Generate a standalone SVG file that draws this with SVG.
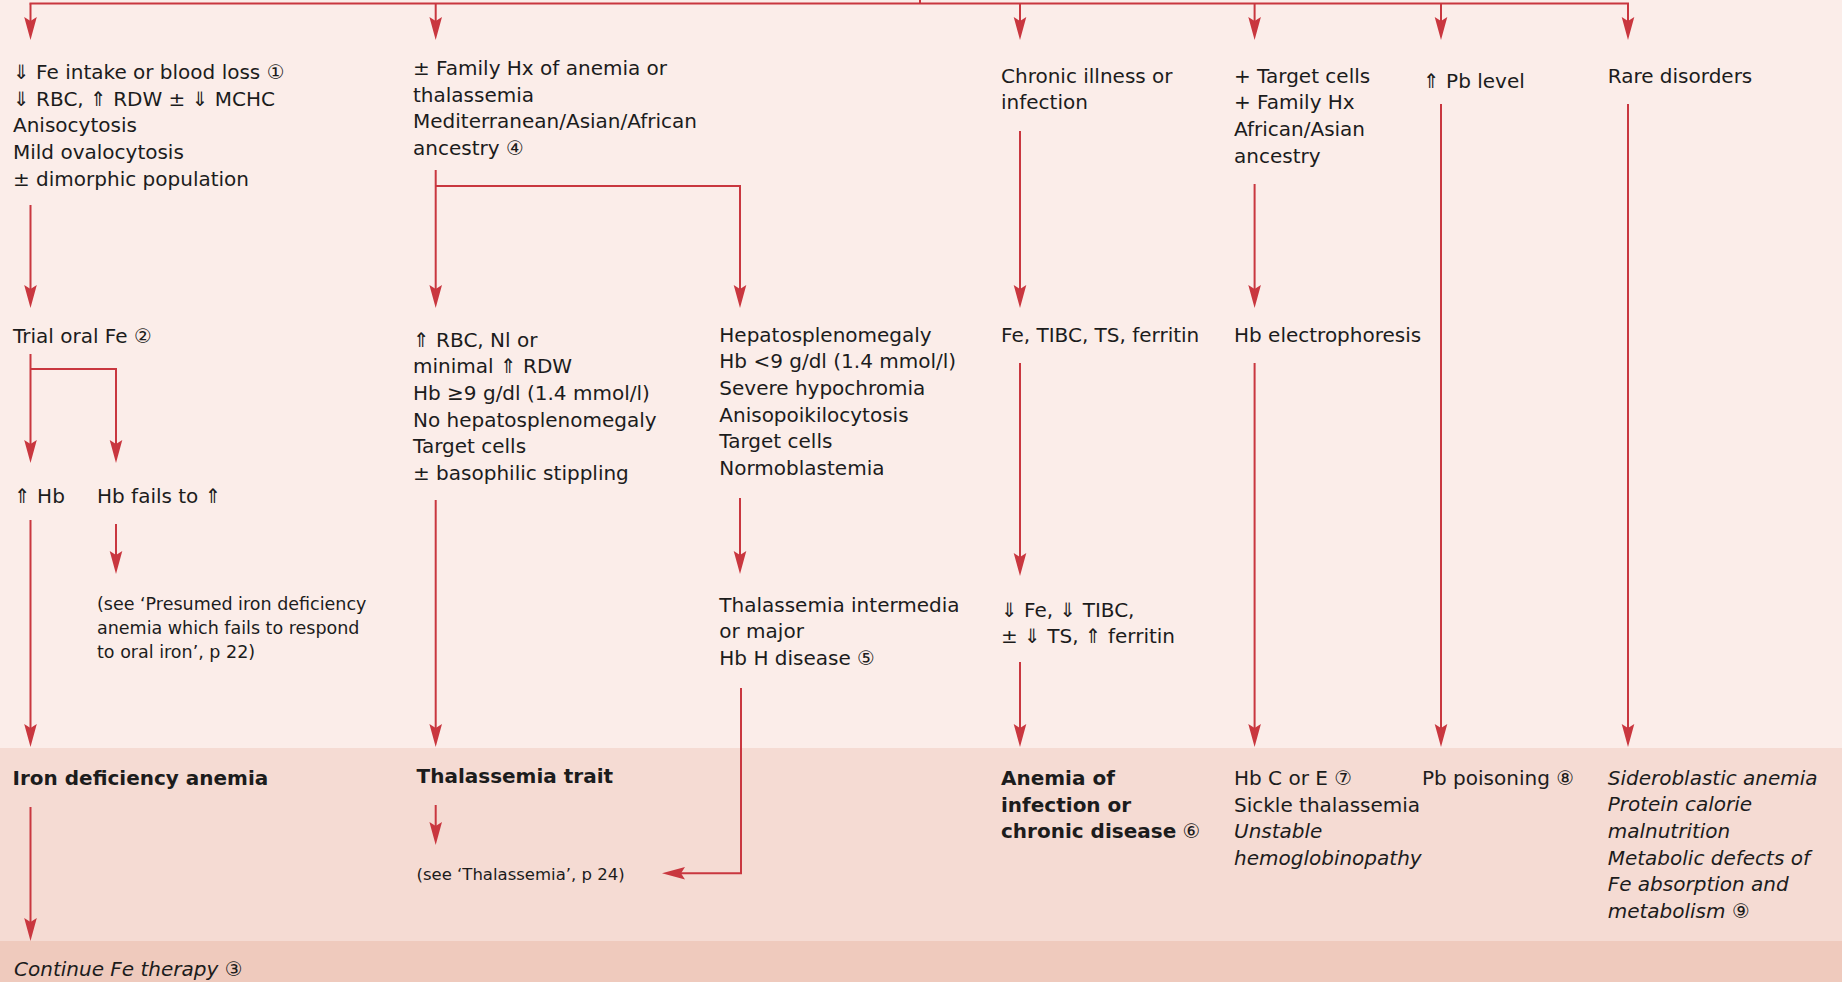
<svg xmlns="http://www.w3.org/2000/svg" width="1842" height="982" viewBox="0 0 1842 982">
<defs>
<style>
.t{font-family:"DejaVu Sans","Liberation Sans",sans-serif;font-size:20px;fill:#1c1c1c}
.b{font-weight:bold}
.i{font-style:italic}
.s{font-size:17.5px}
.xs{font-size:16.5px}
.c{fill:none;stroke:#c9373f;stroke-width:2;stroke-linejoin:miter}
.a{marker-end:url(#ah)}
</style>
<marker id="ah" markerUnits="userSpaceOnUse" markerWidth="30" markerHeight="20" viewBox="-5 -8 30 16" refX="0" refY="0" orient="auto">
<path d="M-4,-6.3 L19,0 L-4,6.3 L0,0 Z" fill="#c9373f"/>
</marker>
</defs>
<g id="background">
<rect x="0" y="0" width="1842" height="748" fill="#fbede9"/>
<rect x="0" y="748" width="1842" height="193" fill="#f5dbd3"/>
<rect x="0" y="941" width="1842" height="41" fill="#efcabd"/>
</g>
<g id="connectors">
<path class="c" d="M29.5,3.5 H1629"/>
<path class="c" d="M920,0 V3.5"/>
<path class="c a" d="M30.5,3.5 V21"/>
<path class="c a" d="M435.7,3.5 V21"/>
<path class="c a" d="M1020,3.5 V21"/>
<path class="c a" d="M1254.6,3.5 V21"/>
<path class="c a" d="M1441,3.5 V21"/>
<path class="c a" d="M1628,3.5 V21"/>
<path class="c a" d="M30.5,205 V289"/>
<path class="c a" d="M30.5,354 V444"/>
<path class="c a" d="M30.5,369 H116 V444"/>
<path class="c a" d="M116,524 V555"/>
<path class="c a" d="M30.5,520 V728"/>
<path class="c a" d="M30.5,807 V922"/>
<path class="c a" d="M435.7,170 V289"/>
<path class="c a" d="M435.7,186 H740 V289"/>
<path class="c a" d="M435.7,500 V728"/>
<path class="c a" d="M740,498 V555"/>
<path class="c a" d="M741,688 V873.3 H681"/>
<path class="c a" d="M435.7,805 V826"/>
<path class="c a" d="M1020,131 V289"/>
<path class="c a" d="M1020,363 V557"/>
<path class="c a" d="M1020,662 V728"/>
<path class="c a" d="M1254.6,184 V289"/>
<path class="c a" d="M1254.6,363 V728"/>
<path class="c a" d="M1441,104 V728"/>
<path class="c a" d="M1628,104 V728"/>
</g>
<g id="n-iron-history">
<text class="t" x="13" y="79">⇓ Fe intake or blood loss ①</text>
<text class="t" x="13" y="105.7">⇓ RBC, ⇑ RDW ± ⇓ MCHC</text>
<text class="t" x="13" y="132.3">Anisocytosis</text>
<text class="t" x="13" y="159">Mild ovalocytosis</text>
<text class="t" x="13" y="185.7">± dimorphic population</text>
</g>
<g id="n-trial-fe"><text class="t" x="13" y="342.7">Trial oral Fe ②</text></g>
<g id="n-hb-up"><text class="t" x="14" y="503">⇑ Hb</text></g>
<g id="n-hb-fails"><text class="t" x="97" y="503">Hb fails to ⇑</text></g>
<g id="n-see-presumed">
<text class="t s" x="97" y="610">(see ‘Presumed iron deficiency</text>
<text class="t s" x="97" y="634">anemia which fails to respond</text>
<text class="t s" x="97" y="658">to oral iron’, p 22)</text>
</g>
<g id="n-ida"><text class="t b" x="12.5" y="785">Iron deficiency anemia</text></g>
<g id="n-continue"><text class="t i" x="14" y="976">Continue Fe therapy ③</text></g>
<g id="n-thal-history">
<text class="t" x="413" y="75">± Family Hx of anemia or</text>
<text class="t" x="413" y="101.7">thalassemia</text>
<text class="t" x="413" y="128.3">Mediterranean/Asian/African</text>
<text class="t" x="413" y="155">ancestry ④</text>
</g>
<g id="n-thal-trait-findings">
<text class="t" x="413" y="346.7">⇑ RBC, Nl or</text>
<text class="t" x="413" y="373.3">minimal ⇑ RDW</text>
<text class="t" x="413" y="400">Hb ≥9 g/dl (1.4 mmol/l)</text>
<text class="t" x="413" y="426.7">No hepatosplenomegaly</text>
<text class="t" x="413" y="453.3">Target cells</text>
<text class="t" x="413" y="480">± basophilic stippling</text>
</g>
<g id="n-thal-major-findings">
<text class="t" x="719.3" y="341.7">Hepatosplenomegaly</text>
<text class="t" x="719.3" y="368.3">Hb &lt;9 g/dl (1.4 mmol/l)</text>
<text class="t" x="719.3" y="395">Severe hypochromia</text>
<text class="t" x="719.3" y="421.7">Anisopoikilocytosis</text>
<text class="t" x="719.3" y="448.3">Target cells</text>
<text class="t" x="719.3" y="475">Normoblastemia</text>
</g>
<g id="n-thal-major">
<text class="t" x="719.3" y="611.7">Thalassemia intermedia</text>
<text class="t" x="719.3" y="638.3">or major</text>
<text class="t" x="719.3" y="665">Hb H disease ⑤</text>
</g>
<g id="n-thal-trait"><text class="t b" x="416.5" y="783">Thalassemia trait</text></g>
<g id="n-see-thal"><text class="t xs" x="416.5" y="880">(see ‘Thalassemia’, p 24)</text></g>
<g id="n-chronic">
<text class="t" x="1001" y="82.7">Chronic illness or</text>
<text class="t" x="1001" y="109.3">infection</text>
</g>
<g id="n-fe-studies"><text class="t" x="1001" y="341.7">Fe, TIBC, TS, ferritin</text></g>
<g id="n-fe-results">
<text class="t" x="1001" y="616.7">⇓ Fe, ⇓ TIBC,</text>
<text class="t" x="1001" y="642.7">± ⇓ TS, ⇑ ferritin</text>
</g>
<g id="n-acd">
<text class="t b" x="1001" y="785">Anemia of</text>
<text class="t b" x="1001" y="811.7">infection or</text>
<text class="t" x="1001" y="838.3"><tspan class="b">chronic disease</tspan> ⑥</text>
</g>
<g id="n-target">
<text class="t" x="1234" y="82.7">+ Target cells</text>
<text class="t" x="1234" y="109.3">+ Family Hx</text>
<text class="t" x="1234" y="136">African/Asian</text>
<text class="t" x="1234" y="162.7">ancestry</text>
</g>
<g id="n-electro"><text class="t" x="1234" y="341.7">Hb electrophoresis</text></g>
<g id="n-hbce">
<text class="t" x="1234" y="785">Hb C or E ⑦</text>
<text class="t" x="1234" y="811.7">Sickle thalassemia</text>
<text class="t i" x="1234" y="838.3">Unstable</text>
<text class="t i" x="1234" y="865">hemoglobinopathy</text>
</g>
<g id="n-pb"><text class="t" x="1423" y="87.7">⇑ Pb level</text></g>
<g id="n-pb-poison"><text class="t" x="1422" y="785">Pb poisoning ⑧</text></g>
<g id="n-rare"><text class="t" x="1607.7" y="82.7">Rare disorders</text></g>
<g id="n-rare-list">
<text class="t i" x="1607.7" y="785">Sideroblastic anemia</text>
<text class="t i" x="1607.7" y="811.3">Protein calorie</text>
<text class="t i" x="1607.7" y="838">malnutrition</text>
<text class="t i" x="1607.7" y="864.7">Metabolic defects of</text>
<text class="t i" x="1607.7" y="891.3">Fe absorption and</text>
<text class="t i" x="1607.7" y="918">metabolism ⑨</text>
</g>
</svg>
